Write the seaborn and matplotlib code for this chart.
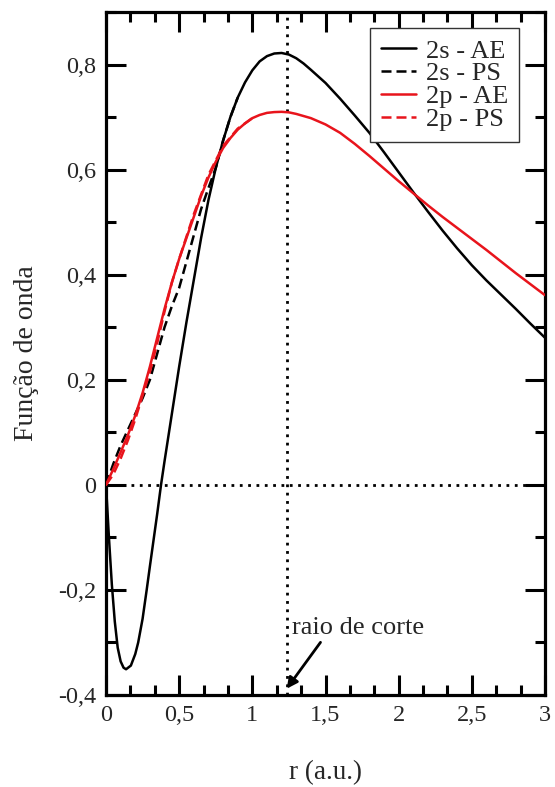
import numpy as np
import pandas as pd
import matplotlib
matplotlib.use("Agg")
import matplotlib.pyplot as plt
import seaborn as sns
from matplotlib.ticker import MultipleLocator, FuncFormatter

# ---- data ----
r_2s_ae = [0, 0.02, 0.04, 0.06, 0.08, 0.10, 0.12, 0.137, 0.17, 0.20, 0.22, 0.25, 0.278, 0.30, 0.35,
           0.376, 0.40, 0.45, 0.50, 0.55, 0.60, 0.65, 0.70, 0.75, 0.80, 0.85, 0.90, 0.95, 1.00,
           1.05, 1.10, 1.15, 1.20, 1.25, 1.30, 1.35, 1.40, 1.50, 1.60, 1.70, 1.80, 1.90, 2.00,
           2.10, 2.20, 2.30, 2.40, 2.50, 2.60, 2.70, 2.80, 2.90, 3.00]
psi_2s_ae = [0, -0.10, -0.19, -0.26, -0.31, -0.336, -0.348, -0.351, -0.344, -0.322, -0.30, -0.255,
             -0.20, -0.155, -0.055, 0.0, 0.045, 0.135, 0.225, 0.31, 0.39, 0.47, 0.542, 0.603,
             0.655, 0.70, 0.737, 0.766, 0.789, 0.806, 0.816, 0.821, 0.822, 0.819, 0.812, 0.802,
             0.79, 0.765, 0.735, 0.703, 0.67, 0.633, 0.595, 0.557, 0.52, 0.484, 0.45, 0.418, 0.389,
             0.362, 0.335, 0.307, 0.28]

r_2s_ps = [0, 0.05, 0.10, 0.15, 0.20, 0.25, 0.30, 0.35, 0.40, 0.45, 0.50, 0.55, 0.60, 0.65, 0.70,
           0.75, 0.80, 0.85, 0.90]
psi_2s_ps = [0, 0.04, 0.075, 0.105, 0.135, 0.165, 0.20, 0.25, 0.30, 0.34, 0.375, 0.425, 0.475,
             0.525, 0.565, 0.603, 0.655, 0.70, 0.737]

r_2p_ae = [0, 0.05, 0.10, 0.15, 0.20, 0.25, 0.30, 0.35, 0.40, 0.45, 0.50, 0.55, 0.60, 0.65, 0.70,
           0.75, 0.80, 0.85, 0.90, 0.95, 1.00, 1.05, 1.10, 1.15, 1.20, 1.25, 1.30, 1.40, 1.50,
           1.60, 1.70, 1.80, 1.90, 2.00, 2.10, 2.20, 2.30, 2.40, 2.50, 2.60, 2.70, 2.80, 2.90, 3.00]
psi_2p_ae = [0, 0.03, 0.062, 0.095, 0.132, 0.175, 0.225, 0.28, 0.335, 0.385, 0.43, 0.47, 0.51,
             0.55, 0.585, 0.615, 0.641, 0.66, 0.676, 0.688, 0.698, 0.704, 0.708, 0.7095, 0.71,
             0.709, 0.706, 0.698, 0.686, 0.67, 0.649, 0.626, 0.602, 0.578, 0.555, 0.532, 0.51,
             0.489, 0.468, 0.447, 0.425, 0.403, 0.382, 0.361]

r_2p_ps = [0, 0.05, 0.10, 0.15, 0.20, 0.25, 0.30, 0.35, 0.40, 0.45, 0.50, 0.60, 0.70, 0.80, 0.90, 1.00]
psi_2p_ps = [0, 0.02, 0.05, 0.085, 0.125, 0.17, 0.215, 0.27, 0.33, 0.385, 0.43, 0.515, 0.59,
             0.645, 0.678, 0.698]

labels = ["2s - AE", "2s - PS", "2p - AE", "2p - PS"]
r_cut = 1.24
x_ticks = [0, 0.5, 1, 1.5, 2, 2.5, 3]
y_ticks = [-0.4, -0.2, 0, 0.2, 0.4, 0.6, 0.8]

# ---- build long table ----
frames = []
for lab, rr, pp in zip(labels, [r_2s_ae, r_2s_ps, r_2p_ae, r_2p_ps],
                       [psi_2s_ae, psi_2s_ps, psi_2p_ae, psi_2p_ps]):
    frames.append(pd.DataFrame({"r": rr, "psi": pp, "curve": lab}))
df = pd.concat(frames, ignore_index=True)

sns.set_style("ticks")
plt.rcParams["font.family"] = ["Liberation Serif", "DejaVu Serif"]

RED = "#e8141c"
palette = {"2s - AE": "black", "2s - PS": "black", "2p - AE": RED, "2p - PS": RED}
dashes = {"2s - AE": "", "2s - PS": (4, 2), "2p - AE": "", "2p - PS": (4, 2)}

fig = plt.figure(figsize=(5.55, 7.87), dpi=100)
ax = fig.add_axes([106 / 555, 1 - 695 / 787, 439 / 555, 683 / 787])

# reference dotted lines
ax.axhline(0, color="black", lw=2.0, ls=(0, (1, 2.0)), zorder=1)
ax.axvline(r_cut, color="black", lw=2.0, ls=(0, (1, 2.0)), zorder=1)

sns.lineplot(data=df, x="r", y="psi", hue="curve", style="curve", palette=palette,
             dashes=dashes, estimator=None, sort=False, lw=1.8, ax=ax, zorder=3,
             hue_order=labels, style_order=labels)

handles, labs = ax.get_legend_handles_labels()
leg = ax.legend(handles, labs, loc="upper right", bbox_to_anchor=(0.941, 0.9766),
                fontsize=19, frameon=True, fancybox=False, edgecolor="#333333",
                framealpha=1, handlelength=1.33, handletextpad=0.36, labelspacing=-0.02,
                borderpad=0.42, borderaxespad=0)
leg.get_frame().set_linewidth(1.0)
for h in leg.get_lines():
    h.set_linewidth(1.8)

ax.set_xlim(0, 3)
ax.set_ylim(-0.4, 0.9)

ax.xaxis.set_minor_locator(MultipleLocator(0.5 / 3))
ax.yaxis.set_minor_locator(MultipleLocator(0.1))
ax.set_xticks(x_ticks)
ax.set_yticks(y_ticks)


def fmt(v, pos):
    if abs(v) < 1e-9:
        return "0"
    s = f"{v:.1f}"
    if s.endswith(".0"):
        s = s[:-2]
    return s.replace(".", ",")


ax.xaxis.set_major_formatter(FuncFormatter(fmt))
ax.yaxis.set_major_formatter(FuncFormatter(fmt))

ax.tick_params(which="both", direction="in", top=True, right=True, width=2.2, color="black")
ax.tick_params(which="major", length=14.4, labelsize=17.5, pad=7)
ax.tick_params(which="minor", length=7.2)
for sp in ax.spines.values():
    sp.set_linewidth(2.3)
    sp.set_color("black")

ax.set_xlabel("r (a.u.)", fontsize=19.5)
ax.set_ylabel("Função de onda", fontsize=20)
ax.xaxis.label.set_va("center")
ax.yaxis.label.set_va("center")
ax.xaxis.set_label_coords(0.5, (695 - 773) / 683)
ax.yaxis.set_label_coords((27 - 106) / 439, 0.5)

ax.annotate("raio de corte", xy=(r_cut - 0.005, -0.388), xytext=(1.27, -0.284),
            fontsize=19, ha="left", va="baseline",
            arrowprops=dict(arrowstyle="-|>", color="black", lw=2.0, mutation_scale=16,
                            shrinkA=0, shrinkB=0, relpos=(0.235, 0.0)))

fig.savefig("out.png", dpi=100)
